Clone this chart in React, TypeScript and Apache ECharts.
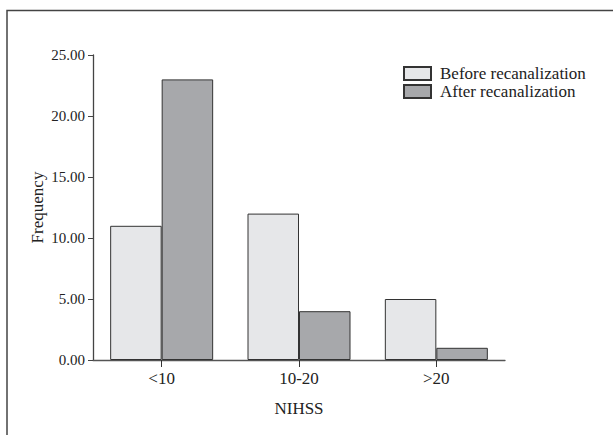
import React, { useEffect, useRef } from "react";
import * as echarts from "echarts";

const categories = ["<10", "10-20", ">20"];
const beforeValues = [11, 12, 5];
const afterValues = [23, 4, 1];
const yTicks = [0, 5, 10, 15, 20, 25];
const seriesNames = ["Before recanalization", "After recanalization"];

export default function App() {
  const ref = useRef<HTMLDivElement>(null);
  useEffect(() => {
    document.body.style.margin = "0";
    const chart = echarts.init(ref.current!, null, { renderer: "svg" });
    const font = "'Liberation Serif', 'DejaVu Serif', serif";
    chart.setOption({
      animation: false,
      backgroundColor: "#ffffff",
      textStyle: { fontFamily: font },
      grid: { left: 93, right: 108, top: 55, bottom: 75 },
      legend: {
        orient: "vertical",
        left: 398,
        top: 60,
        itemWidth: 27,
        itemHeight: 13,
        itemGap: 1,
        icon: "rect",
        textStyle: { fontFamily: font, fontSize: 17, lineHeight: 15, color: "#222", padding: [0, 0, 0, 4] },
        data: seriesNames,
      },
      xAxis: {
        type: "category",
        data: categories,
        name: "NIHSS",
        nameLocation: "middle",
        nameGap: 40,
        nameTextStyle: { fontFamily: font, fontSize: 17, color: "#222" },
        axisLine: { lineStyle: { color: "#555", width: 1.3 } },
        axisTick: { show: true, alignWithLabel: true, length: 7, lineStyle: { color: "#333" } },
        axisLabel: { fontFamily: font, fontSize: 17, color: "#222", margin: 10 },
      },
      yAxis: {
        type: "value",
        min: 0,
        max: 25,
        interval: 5,
        name: "Frequency",
        nameLocation: "middle",
        nameGap: 47,
        nameMoveOverlap: false,
        nameTextStyle: { fontFamily: font, fontSize: 17, color: "#222" },
        axisLine: { show: true, lineStyle: { color: "#444", width: 1.3 } },
        axisTick: { show: true, length: 5, lineStyle: { color: "#444" } },
        splitLine: { show: false },
        axisLabel: {
          fontFamily: font,
          fontSize: 15,
          color: "#222",
          margin: 8,
          formatter: (v: number) => (yTicks.includes(v) ? v.toFixed(2) : ""),
        },
      },
      series: [
        {
          name: seriesNames[0],
          type: "bar",
          data: beforeValues,
          barGap: "0%",
          barCategoryGap: "25%",
          itemStyle: { color: "#e6e7e9", borderColor: "#333", borderWidth: 1 },
        },
        {
          name: seriesNames[1],
          type: "bar",
          data: afterValues,
          barGap: "0%",
          barCategoryGap: "25%",
          itemStyle: { color: "#a7a8ab", borderColor: "#333", borderWidth: 1 },
        },
      ],
      graphic: [
        {
          type: "polyline",
          shape: { points: [[7, 435], [7, 10.5], [613, 10.5]] },
          style: { stroke: "#444", lineWidth: 1.5, fill: "none" },
          silent: true,
        },
      ],
    });
    return () => chart.dispose();
  }, []);
  return <div ref={ref} style={{ width: 613, height: 435 }} />;
}
